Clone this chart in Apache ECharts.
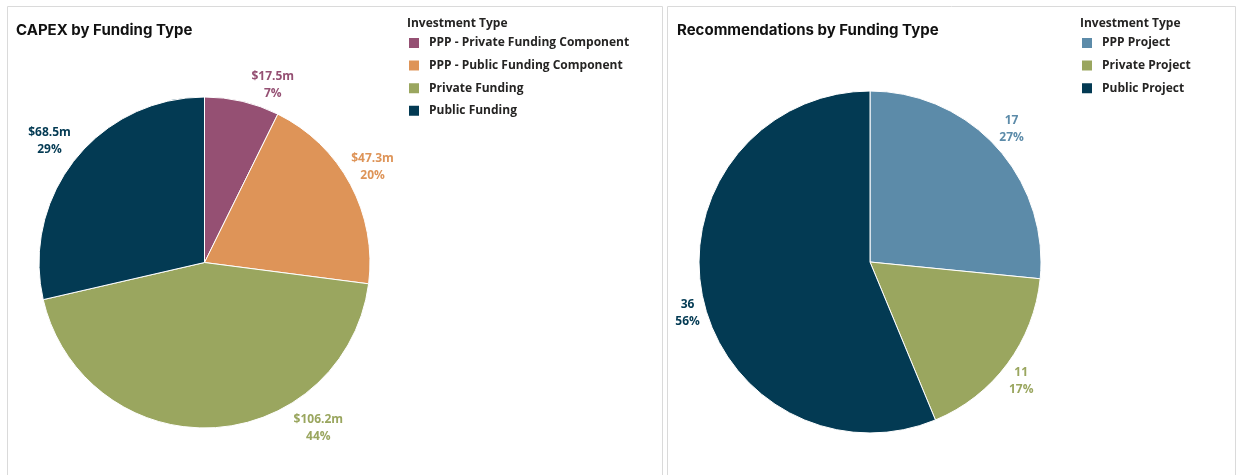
<!DOCTYPE html>
<html>
<head>
<meta charset="utf-8">
<script src="https://cdn.jsdelivr.net/npm/echarts@6/dist/echarts.min.js"></script>
<style>
  html, body { margin: 0; padding: 0; background: #fff; }
  #chart { width: 1237px; height: 475px; }
</style>
</head>
<body>
<div id="chart"></div>
<script>
// CAPEX by funding type ($m)
const capexTypes = ['PPP - Private Funding Component', 'PPP - Public Funding Component', 'Private Funding', 'Public Funding'];
const capexValues = [17.5, 47.3, 106.2, 68.5];

// Number of recommendations by funding type
const recTypes = ['PPP Project', 'Private Project', 'Public Project'];
const recValues = [17, 11, 36];

const capexColors = ['#955073', '#de9458', '#9aa65f', '#033a53'];
const recColors = ['#5c8ba9', '#9aa65f', '#033a53'];

// Small shifts for labels that sit away from their slice's mid-angle
const labelShift = {
  'PPP - Private Funding Component': [22, -1],
  'PPP - Public Funding Component': [3, -10],
  'Private Funding': [100, -16],
  'Public Funding': [-8, -8],
  'PPP Project': [-2, -7],
  'Private Project': [-4, 8],
  'Public Project': [6, 15]
};

const labelFont = { fontFamily: 'Open Sans', fontWeight: 700, fontSize: 12, lineHeight: 17, color: 'inherit' };
const titleFont = { fontFamily: 'Inter', fontWeight: 700, fontSize: 15, color: '#111' };
const legendTitleFont = { fontFamily: 'Open Sans', fontWeight: 700, fontSize: 12, color: '#252423' };
const legendText = { fontFamily: 'Open Sans', fontWeight: 700, fontSize: 12, lineHeight: 12, color: '#252423', padding: [0, 0, 0, 4] };

function pieSeries(name, types, values, colors, center, radius, fmt) {
  return {
    name: name,
    type: 'pie',
    center: center,
    radius: radius,
    startAngle: 90,
    clockwise: true,
    animation: false,
    itemStyle: { borderColor: '#fff', borderWidth: 1 },
    label: Object.assign({ show: true, position: 'outside', alignTo: 'none', formatter: fmt }, labelFont),
    labelLine: { show: false, length: 16, length2: 0 },
    labelLayout: function (p) {
      const s = labelShift[types[p.dataIndex]] || [0, 0];
      return { align: 'center', verticalAlign: 'middle', dx: s[0], dy: s[1] };
    },
    emphasis: { disabled: true },
    data: types.map((t, i) => ({ name: t, value: values[i], itemStyle: { color: colors[i] } }))
  };
}

const chart = echarts.init(document.getElementById('chart'), null, { renderer: 'canvas' });
chart.setOption({
  backgroundColor: '#fff',
  graphic: [
    { type: 'rect', shape: { x: 7.5, y: 6.5, width: 655, height: 480 }, style: { fill: 'none', stroke: '#dadada', lineWidth: 1 }, silent: true },
    { type: 'rect', shape: { x: 667.5, y: 6.5, width: 568, height: 480 }, style: { fill: 'none', stroke: '#dadada', lineWidth: 1 }, silent: true }
  ],
  title: [
    { text: 'CAPEX by Funding Type', left: 11, top: 18, textStyle: titleFont },
    { text: 'Recommendations by Funding Type', left: 672, top: 18, textStyle: titleFont },
    { text: 'Investment Type', left: 402, top: 13, textStyle: legendTitleFont },
    { text: 'Investment Type', left: 1075, top: 13, textStyle: legendTitleFont }
  ],
  legend: [
    {
      data: capexTypes, orient: 'vertical', left: 402, top: 31,
      icon: 'rect', itemWidth: 12, itemHeight: 12, itemGap: 8.6,
      selectedMode: false, textStyle: legendText
    },
    {
      data: recTypes, orient: 'vertical', left: 1075, top: 31,
      icon: 'rect', itemWidth: 12, itemHeight: 12, itemGap: 8.6,
      selectedMode: false, textStyle: legendText
    }
  ],
  series: [
    pieSeries('CAPEX', capexTypes, capexValues, capexColors, [204.5, 262.5], 165.5,
      p => '$' + p.value.toFixed(1) + 'm\n' + Math.round(p.percent) + '%'),
    pieSeries('Recommendations', recTypes, recValues, recColors, [870, 262], 171,
      p => p.value + '\n' + Math.round(p.percent) + '%')
  ]
});
</script>
</body>
</html>
